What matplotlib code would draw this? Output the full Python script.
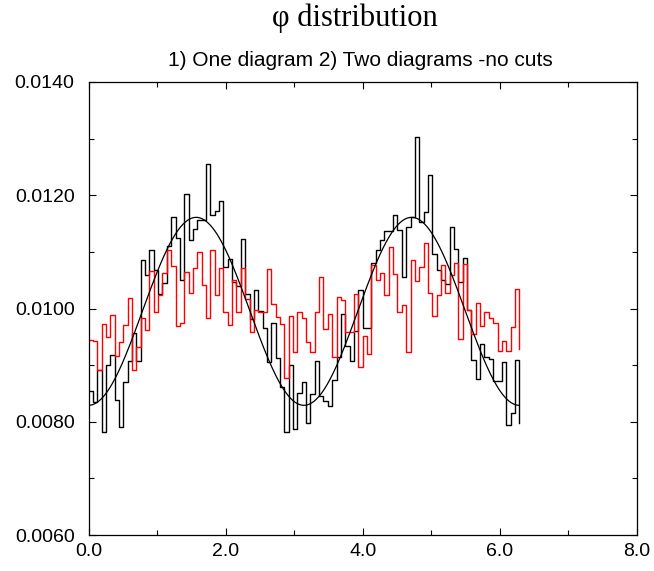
# phi_distribution.py
# Histogram of the phi distribution for the two samples with the cos(2 phi) fit

import numpy as np
import matplotlib
matplotlib.use('Agg')
import matplotlib.pyplot as plt
from matplotlib.ticker import MultipleLocator, FormatStrFormatter

# One diagram (black), 100 bins between 0 and 2 pi
one_diagram = [
    0.00855, 0.00834, 0.00891, 0.00782, 0.00901, 0.00918, 0.00838, 0.00791, 0.00870, 0.00908,
    0.00956, 0.00908, 0.01086, 0.01059, 0.01104, 0.01068, 0.01025, 0.01045, 0.01111, 0.01162,
    0.01124, 0.01050, 0.01202, 0.01121, 0.01140, 0.01157, 0.01157, 0.01256, 0.01166, 0.01172,
    0.01190, 0.01074, 0.01087, 0.01047, 0.01040, 0.01123, 0.01025, 0.00981, 0.01033, 0.00996,
    0.00965, 0.00906, 0.00974, 0.00912, 0.00862, 0.00782, 0.00900, 0.00787, 0.00851, 0.00871,
    0.00798, 0.00849, 0.00908, 0.00846, 0.00837, 0.00828, 0.00873, 0.00915, 0.00991, 0.00934,
    0.00908, 0.00961, 0.01033, 0.00965, 0.00965, 0.01080, 0.01104, 0.01121, 0.01137, 0.01137,
    0.01165, 0.01138, 0.01056, 0.01144, 0.01161, 0.01302, 0.01153, 0.01171, 0.01236, 0.01097,
    0.01068, 0.01050, 0.01044, 0.01144, 0.01105, 0.01047, 0.01090, 0.00997, 0.00909, 0.00876,
    0.00938, 0.00914, 0.00910, 0.00872, 0.00872, 0.00905, 0.00794, 0.00816, 0.00909, 0.00797,
]

# Two diagrams (red)
two_diagrams = [
    0.00945, 0.00943, 0.00892, 0.00973, 0.00950, 0.00988, 0.00916, 0.00941, 0.00970, 0.01019,
    0.00892, 0.00932, 0.00983, 0.00962, 0.01067, 0.00993, 0.01024, 0.01062, 0.01103, 0.01075,
    0.00969, 0.00975, 0.01065, 0.01027, 0.01071, 0.01100, 0.01041, 0.00984, 0.01104, 0.01024,
    0.01071, 0.00994, 0.00971, 0.01050, 0.00994, 0.01071, 0.01016, 0.00959, 0.00997, 0.00994,
    0.00994, 0.01069, 0.01008, 0.00985, 0.00973, 0.00877, 0.00987, 0.00924, 0.00994, 0.00983,
    0.00940, 0.00924, 0.00994, 0.01056, 0.00963, 0.00990, 0.00914, 0.01021, 0.01015, 0.00959,
    0.00959, 0.01025, 0.00897, 0.00951, 0.00919, 0.01077, 0.01051, 0.01062, 0.01024, 0.01109,
    0.01061, 0.00994, 0.01007, 0.00924, 0.01086, 0.01048, 0.01074, 0.01115, 0.01027, 0.00987,
    0.01023, 0.01076, 0.01028, 0.01059, 0.01081, 0.00947, 0.01078, 0.00998, 0.00955, 0.01009,
    0.00969, 0.00993, 0.00983, 0.00974, 0.00925, 0.00943, 0.00925, 0.00968, 0.01035, 0.00928,
]

# Fit parameters: A - B*cos(2 phi)
fit_a = 0.00995
fit_b = 0.00166

x_ticks = [0.0, 2.0, 4.0, 6.0, 8.0]
y_ticks = [0.0060, 0.0080, 0.0100, 0.0120, 0.0140]

title = '\u03c6 distribution'
subtitle = '1) One diagram 2) Two diagrams -no cuts'

plt.rcParams['font.family'] = ['Liberation Sans', 'DejaVu Sans']

fig = plt.figure(figsize=(6.54, 5.71), dpi=100)
ax = fig.add_axes([88.5 / 654, 1 - 535 / 571, (637 - 88.5) / 654, (535 - 82) / 571])

phi = np.linspace(0, 2 * np.pi, len(one_diagram))
ax.step(phi, one_diagram, where='post', color='black', linewidth=1.0)
ax.step(phi, two_diagrams, where='post', color='#ff0000', linewidth=1.0)

# Fit curve
phi_fit = np.linspace(0, 2 * np.pi, 400)
ax.plot(phi_fit, fit_a - fit_b * np.cos(2 * phi_fit), color='black', linewidth=0.9)

ax.set_xlim(x_ticks[0], x_ticks[-1])
ax.set_ylim(y_ticks[0], y_ticks[-1])
ax.set_xticks(x_ticks)
ax.set_yticks(y_ticks)
ax.xaxis.set_minor_locator(MultipleLocator(1.0))
ax.yaxis.set_minor_locator(MultipleLocator(0.001))
ax.xaxis.set_major_formatter(FormatStrFormatter('%.1f'))
ax.yaxis.set_major_formatter(FormatStrFormatter('%.4f'))
ax.tick_params(which='both', direction='in', top=True, right=True, labelsize=14, width=0.8)
ax.tick_params(which='major', length=5)
ax.tick_params(which='minor', length=3.5)
ax.tick_params(axis='x', pad=6)
ax.tick_params(axis='y', pad=10)
for spine in ax.spines.values():
    spine.set_linewidth(0.9)

fig.text(355 / 654, 1 - 18 / 571, title, ha='center', va='center',
         fontsize=22, family=['Liberation Serif', 'DejaVu Serif'])
fig.text(360 / 654, 1 - 60 / 571, subtitle, ha='center', va='center', fontsize=15)

plt.savefig('out.png', dpi=100)
plt.close()
